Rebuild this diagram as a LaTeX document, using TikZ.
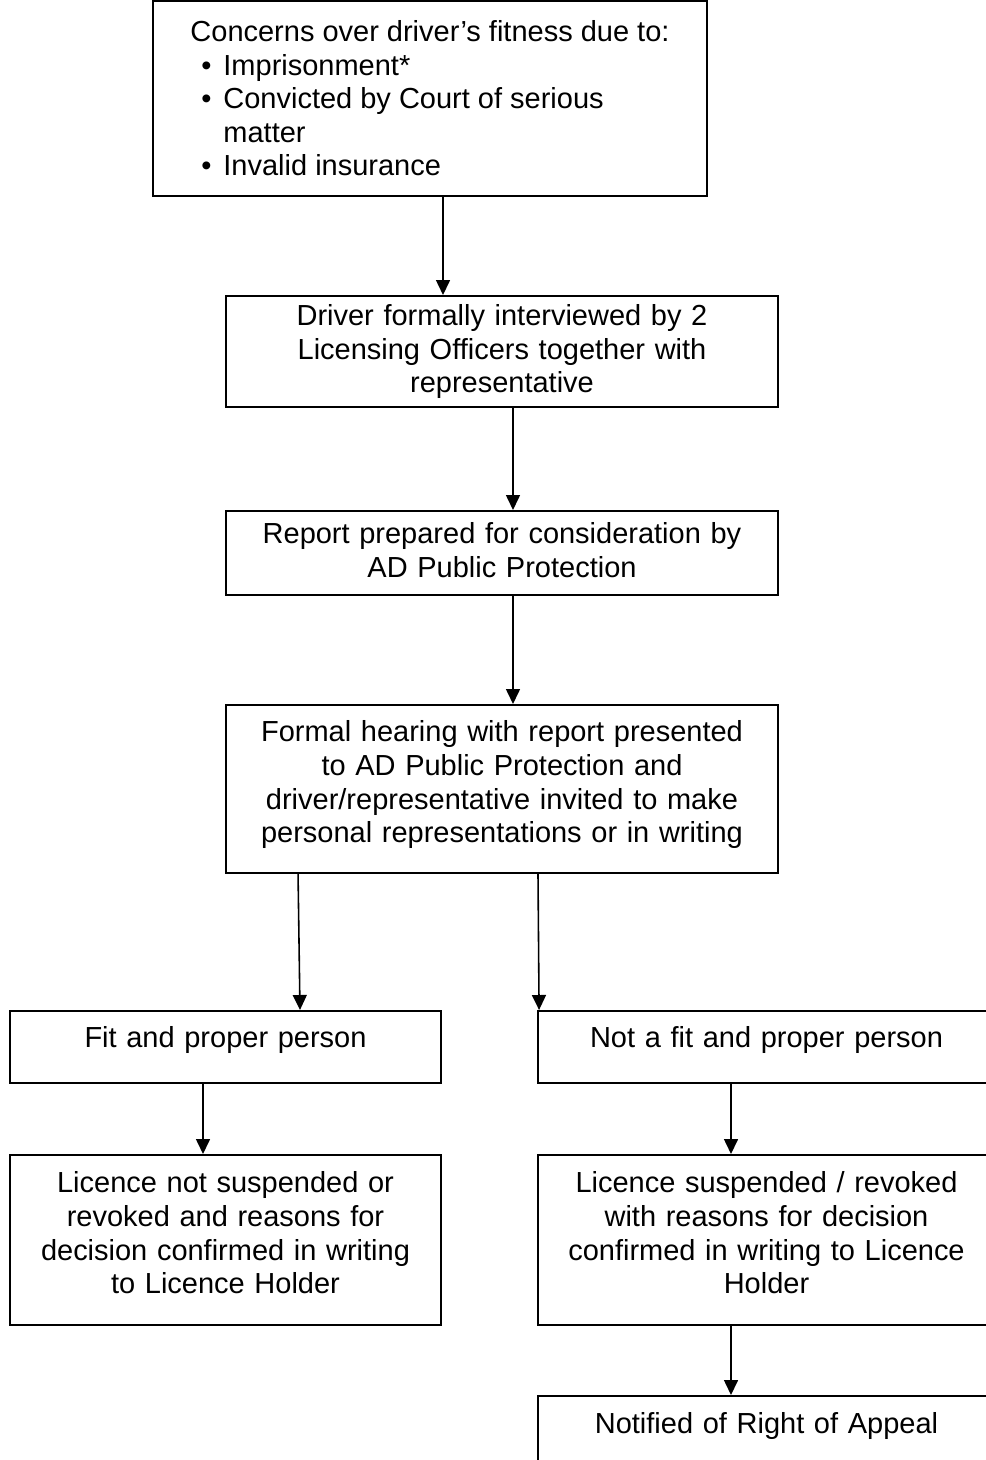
\documentclass[tikz,border=0pt]{standalone}
\usepackage{fontspec}
\setmainfont{Liberation Sans}
\usetikzlibrary{arrows.meta}

\begin{document}
\begin{tikzpicture}
		[
			x=0.02cm, y=-0.02cm,
			font=\fontsize{16.5}{19.1}\selectfont,
			box/.style={draw, line width=1.1pt, rectangle, align=center, inner sep=0pt, anchor=north},
			arrow/.style={-{Triangle[width=0.28cm,length=0.30cm]}, line width=0.9pt}
		]

		\clip (0,0) rectangle (986,1460);

		% first concerns
		\node[draw,line width=1.1pt,inner sep=0pt,align=left,minimum width=11.08cm,minimum height=3.9cm] (concern) at ( 430, 98.5 )
			{Concerns over driver’s fitness due to:\\
			\makebox[0.66cm][l]{\hspace*{0.22cm}\textbullet}Imprisonment*\\
			\makebox[0.66cm][l]{\hspace*{0.22cm}\textbullet}Convicted by Court of serious\\
			\hspace*{0.66cm}matter\\
			\makebox[0.66cm][l]{\hspace*{0.22cm}\textbullet}Invalid insurance};

		% interview, report and hearing
		\node[box,text width=11.04cm,text height=0.59cm,text depth=1.63cm] (interview) at ( 502, 295 )
			{Driver formally interviewed by 2\\ Licensing Officers together with\\ representative};
		\node[box,text width=11.04cm,text height=0.65cm,text depth=1.03cm] (report) at ( 502, 510 )
			{Report prepared for consideration by\\ AD Public Protection};
		\node[box,text width=11.04cm,text height=0.74cm,text depth=2.62cm] (hearing) at ( 502, 704 )
			{Formal hearing with report presented\\ to AD Public Protection and\\ driver/representative invited to make\\ personal representations or in writing};

		% outcome: fit
		\node[box,text width=8.62cm,text height=0.74cm,text depth=0.70cm] (fit) at ( 225.5, 1010 )
			{Fit and proper person};
		\node[box,text width=8.62cm,text height=0.76cm,text depth=2.64cm] (kept) at ( 225.5, 1154 )
			{Licence not suspended or\\ revoked and reasons for\\ decision confirmed in writing\\ to Licence Holder};

		% outcome: not fit
		\node[box,text width=9.14cm,text height=0.74cm,text depth=0.70cm] (notfit) at ( 766.5, 1010 )
			{Not a fit and proper person};
		\node[box,text width=9.14cm,text height=0.76cm,text depth=2.64cm] (revoked) at ( 766.5, 1154 )
			{Licence suspended / revoked\\ with reasons for decision\\ confirmed in writing to Licence\\ Holder};
		\node[box,text width=9.14cm,text height=0.76cm,text depth=0.68cm] (appeal) at ( 766.5, 1395 )
			{Notified of Right of Appeal};

		% arrows
		\foreach \from/\fx/\to/\tx in {concern/0.26cm/interview/-1.18cm,
			interview/0.22cm/report/0.22cm,report/0.22cm/hearing/0.22cm,
			hearing/-4.08cm/fit/1.49cm,
			fit/-0.45cm/kept/-0.45cm,notfit/-0.71cm/revoked/-0.71cm,
			revoked/-0.71cm/appeal/-0.71cm}
		\draw[arrow] ([xshift=\fx]\from.south) -- ([xshift=\tx]\to.north);
		\draw[arrow] ([xshift=0.72cm]hearing.south) -- ([xshift=0.04cm]notfit.north west);

	\end{tikzpicture}
\end{document}
